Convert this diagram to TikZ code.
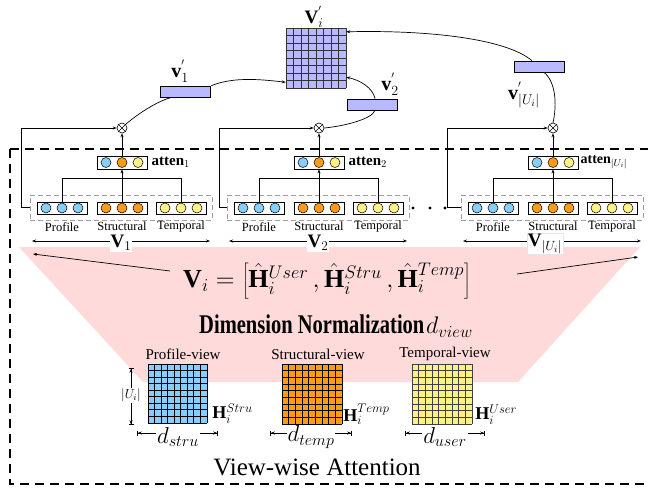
\RequirePackage{fix-cm}
\documentclass[tikz,border=0pt]{standalone}
\usepackage{fontspec}
\setmainfont{Liberation Serif}
\usetikzlibrary{arrows.meta}
\definecolor{lav}{RGB}{185,185,255}
\definecolor{skyb}{RGB}{135,206,250}
\definecolor{orng}{RGB}{255,155,20}
\definecolor{yel}{RGB}{255,242,130}
\definecolor{pinkbg}{RGB}{255,218,218}
\newcommand\featrow[4]{%
  \node[featbox] (#1) at (#2,#3) {};
  \foreach \dx in {-16,0,16}{\node[dotc,fill=#4] at ({#2+\dx},#3) {};}
}
\newcommand\attrow[3]{%
  \node[featbox,minimum height=13pt] (#1) at (#2,#3) {};
  \node[dotc,fill=skyb] at ({#2-16},#3) {};
  \node[dotc,fill=orng] at (#2,#3) {};
  \node[dotc,fill=yel] at ({#2+16},#3) {};
}
\newcommand\sqgrid[6]{%
  \fill[#5] (#1,#2) rectangle ({#1+#3},{#2+#3});
  \foreach \k in {0,...,#4}{
    \draw[#6] ({#1+\k*#3/#4},#2) -- ({#1+\k*#3/#4},{#2+#3});
    \draw[#6] (#1,{#2+\k*#3/#4}) -- ({#1+#3},{#2+\k*#3/#4});
  }
}
\begin{document}
\begin{tikzpicture}[x=1pt,y=-1pt,
  featbox/.style={draw,line width=.8pt,fill=white,minimum width=50pt,minimum height=12pt,inner sep=0pt},
  dotc/.style={circle,draw,line width=.5pt,minimum size=10pt,inner sep=0pt},
  gbox/.style={draw=gray!75,dash pattern=on 5pt off 3pt,line width=.7pt,minimum width=182pt,minimum height=25pt,inner sep=0pt},
  otim/.style={circle,draw,line width=.6pt,minimum size=10pt,inner sep=0pt,fill=white,
    path picture={\draw[line width=.6pt] (path picture bounding box.north west) -- (path picture bounding box.south east) (path picture bounding box.north east) -- (path picture bounding box.south west);}},
  conn/.style={line width=.7pt},
  arr/.style={line width=.7pt,-{Stealth[length=4pt,width=3pt]}},
  varr/.style={line width=.8pt,{Stealth[length=4pt,width=3pt]}-{Stealth[length=4pt,width=3pt]}},
  darr/.style={line width=.8pt,{Bar[width=5pt]Stealth[length=4pt,width=3pt]}-{Stealth[length=4pt,width=3pt]Bar[width=5pt]}},
  vrect/.style={draw,fill=lav,line width=.7pt,minimum width=50pt,minimum height=11pt,inner sep=0pt},
  smalllab/.style={font=\fontsize{12.5}{14}\selectfont,inner sep=0pt},
  viewlab/.style={font=\fontsize{15}{17}\selectfont,inner sep=0pt},
  attlab/.style={font=\fontsize{15}{17}\selectfont,inner sep=0pt,anchor=west},
  vlab/.style={font=\fontsize{19}{21}\selectfont,inner sep=1pt,fill=white},
  toplab/.style={font=\fontsize{20}{22}\selectfont,inner sep=0pt},
  hlab/.style={font=\fontsize{18}{20}\selectfont,inner sep=0pt,anchor=west},
  dlab/.style={font=\fontsize{23}{25}\selectfont,inner sep=1pt,fill=white},
  outer/.style={line width=1.3pt,dash pattern=on 9pt off 6pt}
]
\useasboundingbox (0,0) rectangle (648,488);
% pink trapezoid
\fill[pinkbg] (19,247) -- (640,247) -- (518,382) -- (143,382) -- cycle;
% outer dashed frame
\draw[outer] (10,149) rectangle (662,484);

% groups
\foreach \g/\ox/\fx in {1/0/8,2/197/7,3/431/13}{
  \node[gbox] (G\g) at ({121+\ox},207.5) {};
  \featrow{P\g}{62+\ox}{208}{skyb}
  \featrow{S\g}{122+\ox}{208}{orng}
  \featrow{T\g}{181+\ox}{208}{yel}
  \attrow{A\g}{122+\ox}{162.5}
  \node[otim] (O\g) at ({122+\ox},128) {};
  \coordinate (Y\g) at (0,178);
  \draw[conn] (P\g.north) -- (P\g.north |- Y\g) -| (T\g.north);
  \draw[arr] (S\g.north) -- (A\g.south);
  \draw[arr] (A\g.north) -- (O\g.south);
  \draw[arr] (G\g.west) -- ++(-\fx,0) |- (O\g.west);
  \node[smalllab] at ({62+\ox},227) {Profile};
  \node[smalllab] at ({122+\ox},226) {Structural};
  \node[smalllab] at ({181+\ox},226) {Temporal};
  \coordinate (VL\g) at ({32+\ox},241);
  \coordinate (VR\g) at ({210+\ox},241);
  \draw[varr] (VL\g) -- (VR\g);
}
\node[vlab] at (121,243) {$\mathbf{V}_1$};
\node[vlab] at (318,243) {$\mathbf{V}_2$};
\node[vlab,draw=gray!20] at (545,244) {$\mathbf{V}_{|U_i|}$};
\node[attlab] at ([xshift=4pt]A1.east) {$\mathbf{atten}_1$};
\node[attlab] at ([xshift=4pt]A2.east) {$\mathbf{atten}_2$};
\node[attlab,font=\fontsize{14}{16}\selectfont] at ([xshift=2pt]A3.east) {$\mathbf{atten}_{|U_i|}$};
% dots
\fill (413,208) circle (1.7);
\fill (430,208) circle (1.7);
\fill (445,208) circle (1.7);

% top grid
\node[minimum width=60pt,minimum height=60pt,inner sep=0pt] (VG) at (316,58) {};
\sqgrid{286}{28}{60}{8}{lav}{line width=.6pt,black!80}
\node[toplab,font=\fontsize{19}{21}\selectfont] at (314,17) {$\mathbf{V}_i^{'}$};
% top rectangles
\node[vrect] (R1) at (185,91.5) {};
\node[vrect] (R2) at (372,104.5) {};
\node[vrect] (R3) at (539.5,66.5) {};
\node[toplab] at (180,71) {$\mathbf{v}_1^{'}$};
\node[toplab] at (390,84) {$\mathbf{v}_2^{'}$};
\node[toplab] at (524,95) {$\mathbf{v}_{|U_i|}^{'}$};
% curved connectors
\draw[conn] (O1.north east) .. controls (140,112) and (160,100) .. ([xshift=-13pt]R1.south);
\draw[arr] ([xshift=1pt]R1.north east) .. controls (235,76) and (265,80) .. ([yshift=6pt]VG.south west);
\draw[conn] (O2.east) .. controls (345,126) and (372,119) .. ([xshift=3pt]R2.south);
\draw[arr] ([xshift=3pt]R2.north) .. controls (373,88) and (360,80) .. ([yshift=11pt]VG.south east);
\draw[conn] (O3.north) .. controls (557,105) and (556,82) .. ([xshift=4.5pt]R3.south);
\draw[arr] ([xshift=-7.5pt]R3.north) .. controls (505,38) and (425,30) .. ([yshift=-4pt]VG.north east);

% equation and arrows
\node[font=\fontsize{26}{30}\selectfont,inner sep=0pt] (EQ) at (327,281)
  {$\mathbf{V}_i=\left[\hat{\mathbf{H}}_i^{User}\,,\hat{\mathbf{H}}_i^{Stru}\,,\hat{\mathbf{H}}_i^{Temp}\right]$};
\coordinate (a1s) at (170,271);
\coordinate (a1e) at (33,254);
\coordinate (a2s) at (517,274);
\coordinate (a2e) at (638,257);
\draw[arr] (a1s) -- (a1e);
\draw[arr] (a2s) -- (a2e);
\node[inner sep=0pt] (DN) at (336,326)
  {\scalebox{0.76}[1]{\fontsize{27}{30}\selectfont\bfseries Dimension Normalization}\,{\fontsize{24}{28}\selectfont$d_{view}$}};

% view labels
\node[viewlab] at (183,354) {Profile-view};
\node[viewlab] at (318,354) {Structural-view};
\node[viewlab] at (445,354) {Temporal-view};
% bottom grids
\sqgrid{148}{364}{59}{9}{skyb}{line width=.9pt,black}
\sqgrid{282}{364}{60}{9}{orng}{line width=1pt,black}
\sqgrid{412}{364}{60}{9}{yel}{line width=.6pt,black!75}
\node[minimum size=59pt,inner sep=0pt] (B1) at (177.5,393.5) {};
\node[minimum size=60pt,inner sep=0pt] (B2) at (312,394) {};
\node[minimum size=60pt,inner sep=0pt] (B3) at (442,394) {};
\node[hlab] at ([xshift=5pt,yshift=10pt]B1.south east) {$\mathbf{H}_i^{Stru}$};
\node[hlab] at ([xshift=1pt,yshift=10pt]B2.south east) {$\mathbf{H}_i^{Temp}$};
\node[hlab] at ([xshift=3pt,yshift=10pt]B3.south east) {$\mathbf{H}_i^{User}$};
% dimension arrows
\coordinate (u1) at (131,368);
\coordinate (u2) at (131,425);
\draw[darr] (u1) -- (u2);
\node[font=\fontsize{13}{15}\selectfont,inner sep=1pt,fill=white] at (131,395) {$|U_i|$};
\coordinate (d1a) at (137,433);
\coordinate (d1b) at (218,433);
\coordinate (d2a) at (270,433);
\coordinate (d2b) at (352,433);
\coordinate (d3a) at (405,433);
\coordinate (d3b) at (485,433);
\draw[darr] (d1a) -- (d1b);
\draw[darr] (d2a) -- (d2b);
\draw[darr] (d3a) -- (d3b);
\node[dlab] at (178,437) {$d_{stru}$};
\node[dlab] at (311,437) {$d_{temp}$};
\node[dlab] at (445,437) {$d_{user}$};
% title
\node[font=\fontsize{25}{28}\selectfont,inner sep=0pt] at (317,467) {View-wise Attention};
\end{tikzpicture}
\end{document}
